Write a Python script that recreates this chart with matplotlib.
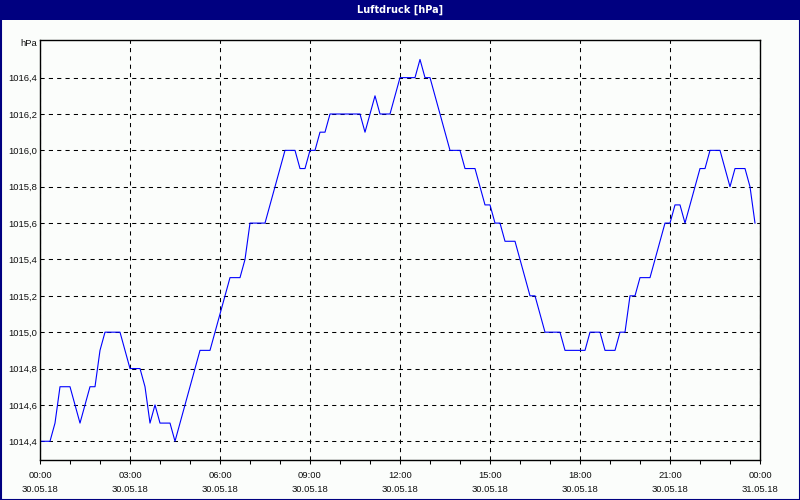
import numpy as np
import pandas as pd
import matplotlib
matplotlib.use('Agg')
import matplotlib.pyplot as plt
import matplotlib.dates as mdates
from matplotlib.patches import Rectangle
from matplotlib.ticker import FuncFormatter, FixedLocator

# Luftdruck alle 10 Minuten, 30.05.18 00:00 bis 23:50
druck = [1014.4, 1014.4, 1014.4, 1014.5, 1014.7, 1014.7, 1014.7, 1014.6, 1014.5, 1014.6,
         1014.7, 1014.7, 1014.9, 1015.0, 1015.0, 1015.0, 1015.0, 1014.9, 1014.8, 1014.8,
         1014.8, 1014.7, 1014.5, 1014.6, 1014.5, 1014.5, 1014.5, 1014.4, 1014.5, 1014.6,
         1014.7, 1014.8, 1014.9, 1014.9, 1014.9, 1015.0, 1015.1, 1015.2, 1015.3, 1015.3,
         1015.3, 1015.4, 1015.6, 1015.6, 1015.6, 1015.6, 1015.7, 1015.8, 1015.9, 1016.0,
         1016.0, 1016.0, 1015.9, 1015.9, 1016.0, 1016.0, 1016.1, 1016.1, 1016.2, 1016.2,
         1016.2, 1016.2, 1016.2, 1016.2, 1016.2, 1016.1, 1016.2, 1016.3, 1016.2, 1016.2,
         1016.2, 1016.3, 1016.4, 1016.4, 1016.4, 1016.4, 1016.5, 1016.4, 1016.4, 1016.3,
         1016.2, 1016.1, 1016.0, 1016.0, 1016.0, 1015.9, 1015.9, 1015.9, 1015.8, 1015.7,
         1015.7, 1015.6, 1015.6, 1015.5, 1015.5, 1015.5, 1015.4, 1015.3, 1015.2, 1015.2,
         1015.1, 1015.0, 1015.0, 1015.0, 1015.0, 1014.9, 1014.9, 1014.9, 1014.9, 1014.9,
         1015.0, 1015.0, 1015.0, 1014.9, 1014.9, 1014.9, 1015.0, 1015.0, 1015.2, 1015.2,
         1015.3, 1015.3, 1015.3, 1015.4, 1015.5, 1015.6, 1015.6, 1015.7, 1015.7, 1015.6,
         1015.7, 1015.8, 1015.9, 1015.9, 1016.0, 1016.0, 1016.0, 1015.9, 1015.8, 1015.9,
         1015.9, 1015.9, 1015.8, 1015.6]
zeit = pd.date_range('2018-05-30 00:00', periods=len(druck), freq='10min')

y_ticks = [1014.4, 1014.6, 1014.8, 1015.0, 1015.2, 1015.4, 1015.6, 1015.8, 1016.0, 1016.2, 1016.4]
titel = 'Luftdruck [hPa]'
einheit = 'hPa'

navy = '#000080'
bg = '#fbfdfb'
font = ['Liberation Sans', 'DejaVu Sans']

fig = plt.figure(figsize=(8, 5), dpi=100, facecolor=bg)
ax = fig.add_axes([40/800, 40/500, 720/800, 420/500])
ax.set_facecolor(bg)

ax.plot(zeit, druck, color='#0000ff', lw=0.8)

ax.set_xlim(pd.Timestamp('2018-05-30 00:00'), pd.Timestamp('2018-05-31 00:00'))
ax.set_ylim(1014.297, 1016.607)

ax.xaxis.set_major_locator(mdates.HourLocator(byhour=range(0, 24, 3)))
ax.xaxis.set_minor_locator(mdates.HourLocator())
ax.xaxis.set_major_formatter(mdates.DateFormatter('%H:%M\n%d.%m.%y'))
ax.yaxis.set_major_locator(FixedLocator(y_ticks))
ax.yaxis.set_major_formatter(FuncFormatter(lambda v, p: f'{v:.1f}'.replace('.', ',')))

ax.grid(True, which='major', color='black', lw=0.75, linestyle=(0, (4, 4)))
ax.tick_params(axis='x', which='both', direction='out', length=3, width=0.75,
               color='black', pad=5, labelsize=6.8)
ax.tick_params(axis='y', length=0, pad=2.3, labelsize=6.8)
for lab in ax.get_xticklabels() + ax.get_yticklabels():
    lab.set_family(font)
    lab.set_color('#101010')
    lab.set_linespacing(1.7)
for s in ax.spines.values():
    s.set_color('black')
    s.set_linewidth(1.0)

fig.text(37/800, 1 - 44/500, einheit, ha='right', va='center', fontsize=6.8,
         family=font, color='#101010')

# Titelleiste und Rahmen
fig.patches.append(Rectangle((0, 1 - 20/500), 1, 20/500, transform=fig.transFigure,
                             facecolor=navy, edgecolor='none', zorder=0))
fig.patches.append(Rectangle((0.5/800, 0.5/500), 799/800, 499/500, transform=fig.transFigure,
                             facecolor='none', edgecolor=navy, lw=1.5, zorder=5))
fig.text(0.5, 1 - 10/500, titel, ha='center', va='center', color='white',
         fontsize=7, fontweight='bold', family=['Liberation Sans Narrow', 'DejaVu Sans'])

plt.savefig('out.png', dpi=100, facecolor=bg)
